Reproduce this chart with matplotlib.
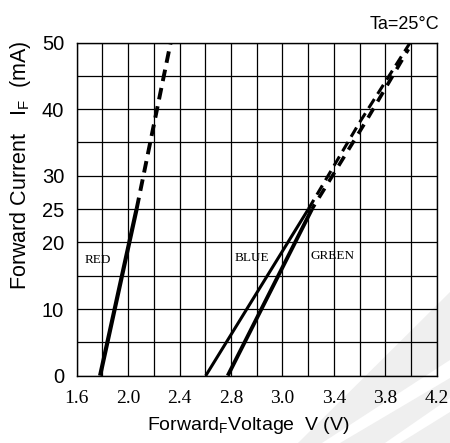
import matplotlib.pyplot as plt
from matplotlib.patches import Polygon

# x values are in grid units: one grid column = 0.2, labels as printed on the sheet
x_ticks = [1.6, 2.0, 2.4, 2.8, 3.2, 3.6, 4.0, 4.4]
x_ticklabels = ['1.6', '2.0', '2.4', '2.8', '3.0', '3.4', '3.8', '4.2']
y_ticks = [0, 10, 20, 25, 30, 40, 50]

red_v = [1.782, 2.066]
red_i = [0, 25]
red_v_dash = [2.066, 2.331]
red_i_dash = [25, 50]

blue_v = [2.604, 3.402]
blue_i = [0, 25]
blue_v_dash = [3.402, 3.80, 4.194]
blue_i_dash = [25, 38, 50]

green_v = [2.775, 3.43]
green_i = [0, 25]
green_v_dash = [3.43, 3.86, 4.18]
green_i_dash = [25, 38.5, 49]

sans = ['Liberation Sans', 'DejaVu Sans']
serif = ['Liberation Serif', 'DejaVu Serif']
plt.rcParams['mathtext.fontset'] = 'custom'
plt.rcParams['mathtext.rm'] = 'Liberation Sans'

fig = plt.figure(figsize=(4.5, 4.43), dpi=100)
ax = fig.add_axes([0.1704, 0.152, 0.8, 0.752])
ax.set_facecolor('none')

# faint watermark in the lower right corner
def px(pts):
    return [(x / 450, 1 - y / 443) for x, y in pts]

fig.patches.append(Polygon(px([(298, 443), (450, 443), (450, 292)]), closed=True,
                           transform=fig.transFigure, facecolor='#efefef', edgecolor='none', zorder=-5))
for pts in ([(322, 443), (340, 443), (450, 378), (450, 360)],
            [(385, 443), (400, 443), (450, 412), (450, 398)]):
    fig.patches.append(Polygon(px(pts), closed=True, transform=fig.transFigure,
                               facecolor='white', edgecolor='none', zorder=-4))

ax.plot(red_v, red_i, color='black', lw=3.0, solid_capstyle='butt')
ax.plot(red_v_dash, red_i_dash, color='black', lw=2.8, linestyle=(0, (3, 1.8)))
ax.plot(blue_v, blue_i, color='black', lw=2.2, solid_capstyle='butt')
ax.plot(blue_v_dash, blue_i_dash, color='black', lw=2.2, linestyle=(0, (3.5, 2)))
ax.plot(green_v, green_i, color='black', lw=2.8, solid_capstyle='butt')
ax.plot(green_v_dash, green_i_dash, color='black', lw=2.6, linestyle=(1.5, (3, 2.2)))

ax.text(1.665, 17.4, 'RED', fontsize=9.5, family=serif, va='center')
ax.text(2.83, 17.6, 'BLUE', fontsize=9.5, family=serif, va='center')
ax.text(3.415, 17.9, 'GREEN', fontsize=9.5, family=serif, va='center')

ax.set_xlim(1.6, 4.4)
ax.set_ylim(0, 50)
ax.set_xticks([1.6 + 0.2 * k for k in range(15)], minor=True)
ax.set_yticks(range(0, 51, 5), minor=True)
ax.set_xticks(x_ticks)
ax.set_xticklabels(x_ticklabels, family=serif, fontsize=14)
ax.set_yticks(y_ticks)
ax.set_yticklabels([str(v) for v in y_ticks], family=sans, fontsize=14.5)
ax.tick_params(which='both', length=0)
ax.tick_params(axis='x', pad=10)
ax.tick_params(axis='y', pad=9)
ax.grid(which='both', color='black', lw=0.9)
for s in ax.spines.values():
    s.set_linewidth(1.0)

ax.set_ylabel(r'Forward Current   I$_{\mathregular{F}}$  (mA)', family=sans, fontsize=15.5)
ax.yaxis.set_label_coords(-0.12, 0.633)
ax.set_xlabel(r'Forward$_{\mathregular{F}}$Voltage  V (V)', family=sans, fontsize=14)
ax.xaxis.set_label_coords(0.476, -0.118)

fig.text(0.975, 0.945, 'Ta=25°C', family=sans, fontsize=13, ha='right', va='center')

fig.savefig('out.png', dpi=100)
